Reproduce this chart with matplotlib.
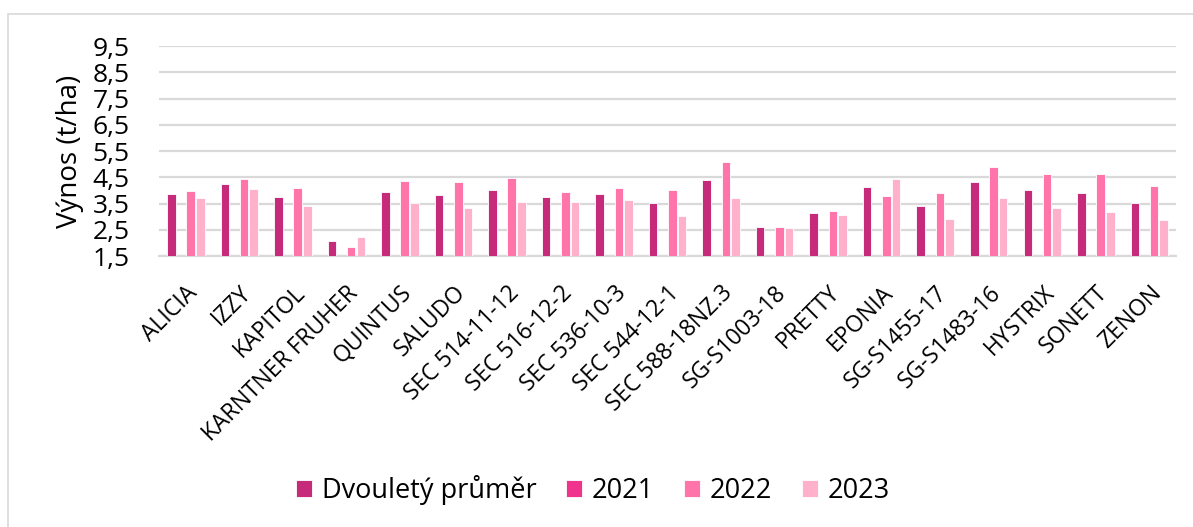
import numpy as np
import matplotlib
matplotlib.use('Agg')
import matplotlib.pyplot as plt
from matplotlib.patches import Rectangle

odrudy = ['ALICIA', 'IZZY', 'KAPITOL', 'KARNTNER FRUHER', 'QUINTUS', 'SALUDO',
          'SEC 514-11-12', 'SEC 516-12-2', 'SEC 536-10-3', 'SEC 544-12-1',
          'SEC 588-18NZ.3', 'SG-S1003-18', 'PRETTY', 'EPONIA', 'SG-S1455-17',
          'SG-S1483-16', 'HYSTRIX', 'SONETT', 'ZENON']

prumer = [3.85, 4.24, 3.75, 2.06, 3.95, 3.82, 4.01, 3.76, 3.87, 3.52,
          4.40, 2.59, 3.15, 4.13, 3.39, 4.31, 4.00, 3.89, 3.51]
r2021 = [np.nan] * 19
r2022 = [3.98, 4.42, 4.08, 1.84, 4.34, 4.33, 4.48, 3.94, 4.10, 4.00,
         5.08, 2.60, 3.21, 3.79, 3.89, 4.89, 4.64, 4.61, 4.15]
r2023 = [3.70, 4.05, 3.42, 2.24, 3.53, 3.32, 3.56, 3.56, 3.65, 3.04,
         3.72, 2.57, 3.06, 4.45, 2.90, 3.72, 3.34, 3.16, 2.86]

nazvy = ['Dvouletý průměr', '2021', '2022', '2023']
barvy = ['#C62A7A', '#F0338D', '#FF75AA', '#FFB1CB']

plt.rcParams['font.family'] = ['Open Sans', 'DejaVu Sans']

fig = plt.figure(figsize=(11.93, 5.27), dpi=100)
ax = fig.add_axes([0.1333, 0.5142, 0.8525, 0.3985])

# rámeček grafu
fig.patches.append(Rectangle((8 / 1193, -0.1), 1.2, 1 - 14 / 527 + 0.1,
                             transform=fig.transFigure, fill=False,
                             edgecolor='#D9D9D9', linewidth=1.2))

x = np.arange(len(odrudy))
krok = 0.18
for i, (data, nazev, barva) in enumerate(zip([prumer, r2021, r2022, r2023], nazvy, barvy)):
    ax.bar(x + (i - 1.5) * krok, data, width=0.16, color=barva, label=nazev,
           edgecolor='white', linewidth=0.6, zorder=3)

ax.set_ylim(1.5, 9.5)
ax.set_xlim(-0.5, len(odrudy) - 0.5)
yt = np.arange(1.5, 10, 1.0)
ax.set_yticks(yt)
ax.set_yticklabels([str(v).replace('.', ',') for v in yt], fontsize=19)
ax.set_xticks(x)
ax.set_xticklabels(odrudy, rotation=45, ha='right', va='top',
                   rotation_mode='anchor', fontsize=16.5)
ax.tick_params(axis='y', length=0, pad=21)
ax.tick_params(axis='x', length=0, pad=18)
ax.grid(axis='y', color='#D9D9D9', linewidth=1.6, zorder=0)
for s in ['top', 'right', 'left']:
    ax.spines[s].set_visible(False)
ax.spines['bottom'].set_color('#D9D9D9')
ax.spines['bottom'].set_linewidth(1.6)
ax.set_ylabel('Výnos (t/ha)', fontsize=20, labelpad=6)

fig.legend(loc='center', bbox_to_anchor=(0.497, 0.07), ncol=4, frameon=False,
           fontsize=19.5, handlelength=0.6, handleheight=0.6, columnspacing=1.1,
           handletextpad=0.35)

fig.savefig('out.png', dpi=100, facecolor='white')
